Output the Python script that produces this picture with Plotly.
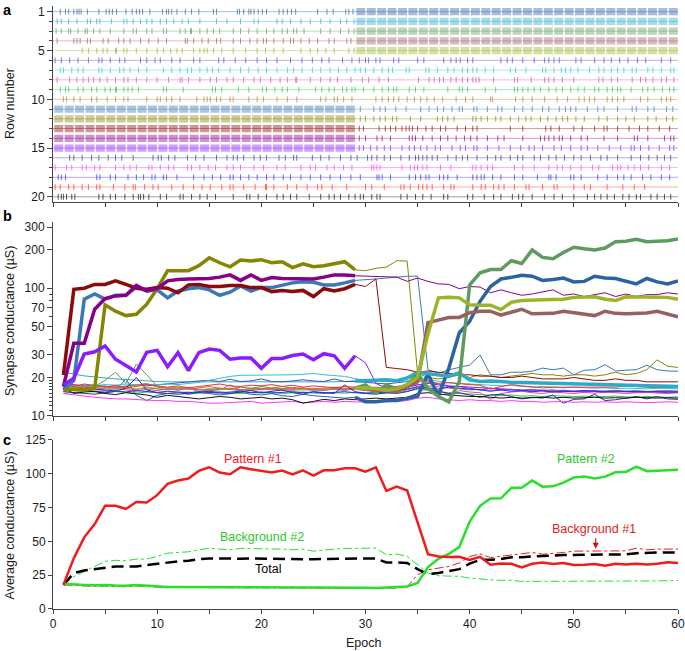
import plotly.graph_objects as go

# ---------------- data ----------------
EPOCHS = list(range(1, 61))
SWITCH_EPOCH = 29                 # pattern #1 presented before, pattern #2 after
PATTERN1_ROWS = [11, 12, 13, 14, 15]
PATTERN2_ROWS = [1, 2, 3, 4, 5]
ROWS = list(range(1, 21))

ROW_COLORS = ['#2d62a0', '#2aabcc', '#5f9a5f', '#9a6060', '#9ab52a',
              '#4b4bc0', '#26c6da', '#d44f9c', '#2ec24c', '#b47a38',
              '#3a78b8', '#858500', '#8b0a0a', '#880088', '#8a1cff',
              '#303096', '#ff33ff', '#2a2aff', '#ff2a2a', '#111111']

# spike times (in epochs) of the sparse parts of each raster row
SPIKES_1 = [0.7, 1.2, 1.5, 2.0, 2.3, 2.5, 2.7, 3.3, 4.4, 5.1, 5.4, 5.7, 6.1, 7.0, 7.6, 8.0, 8.3, 8.6, 9.3, 10.5, 10.9, 11.1, 11.4, 11.9, 12.7, 13.3, 14.0, 15.4, 15.7, 17.7, 17.9, 18.3, 18.8, 19.0, 19.3, 19.7, 20.1, 20.5, 21.7, 22.1, 22.5, 22.9, 23.3, 25.4, 26.3, 26.9, 28.1, 28.4, 28.8]
SPIKES_2 = [0.4, 0.8, 1.5, 2.3, 3.3, 3.6, 4.2, 4.5, 5.6, 6.8, 7.1, 7.7, 8.4, 9.0, 9.5, 10.3, 10.9, 11.6, 12.4, 13.0, 14.1, 15.7, 16.7, 18.0, 19.3, 19.7, 21.5, 22.0, 22.8, 23.8, 24.7, 25.7, 26.6, 27.6, 28.2, 28.9]
SPIKES_3 = [0.3, 0.8, 1.5, 1.7, 2.4, 3.1, 3.3, 3.9, 4.5, 5.5, 6.8, 7.7, 8.0, 9.0, 9.5, 10.6, 10.9, 12.2, 12.7, 13.2, 13.3, 14.1, 14.8, 15.4, 16.0, 17.3, 18.0, 18.8, 19.6, 20.5, 21.2, 22.0, 22.5, 23.1, 23.4, 24.1, 25.7, 26.6, 27.6, 28.4, 28.9]
SPIKES_4 = [0.4, 2.0, 2.3, 2.6, 3.3, 3.6, 4.8, 5.3, 6.3, 6.8, 7.4, 8.4, 9.2, 10.1, 10.9, 12.7, 12.9, 13.5, 14.3, 14.9, 15.7, 16.1, 17.3, 18.0, 18.9, 19.6, 20.2, 20.5, 21.2, 22.1, 22.8, 23.1, 23.8, 24.6, 25.4, 26.5, 27.0, 28.2, 28.6]
SPIKES_5 = [2.8, 3.4, 4.2, 4.8, 5.2, 6.0, 6.1, 6.8, 7.1, 8.0, 9.0, 10.0, 10.6, 11.3, 11.9, 12.4, 13.5, 14.1, 14.5, 14.8, 15.4, 16.2, 17.3, 18.5, 19.6, 20.4, 21.2, 22.1, 23.8, 24.7, 25.4, 26.2, 27.0, 28.4, 28.9]
SPIKES_6 = [0.2, 0.8, 1.6, 2.4, 3.4, 4.4, 4.7, 5.5, 6.4, 6.9, 8.4, 9.0, 9.8, 10.3, 11.4, 12.2, 13.5, 14.1, 15.9, 16.4, 17.5, 18.5, 19.6, 20.5, 21.5, 22.8, 23.9, 24.9, 25.8, 26.5, 27.8, 28.7,
            29.4, 30.0, 30.3, 31.0, 31.4, 32.7, 33.2, 35.0, 35.6, 37.5, 38.2, 38.7, 39.1, 39.8, 40.3, 43.0, 43.6, 44.1, 45.1, 46.2, 47.2, 47.6, 48.1, 48.6, 50.2, 50.7, 52.0, 52.9, 53.6, 54.4, 55.2, 56.1, 56.9, 58.4, 59.3]
SPIKES_7 = [0.7, 1.0, 1.8, 2.4, 2.9, 4.4, 4.7, 5.5, 6.4, 6.8, 7.4, 8.2, 9.0, 10.6, 11.4, 12.2, 12.9, 13.3, 14.1, 14.8, 15.3, 15.9, 17.0, 18.0, 18.8, 19.7, 20.5, 21.5, 22.5, 23.1, 23.9, 24.9, 25.7, 26.6, 27.4, 28.2, 29.0,
            29.5, 30.0, 30.8, 31.6, 32.2, 32.6, 33.9, 34.2, 35.8, 36.1, 36.9, 37.9, 38.5, 39.3, 39.8, 40.3, 40.7, 41.5, 42.3, 43.9, 44.4, 45.4, 47.0, 47.3, 48.1, 48.8, 49.2, 49.7, 50.4, 51.5, 52.4, 52.9, 53.6, 54.2, 54.8, 55.6, 56.0, 57.1, 57.6, 58.4, 59.3, 59.6]
SPIKES_8 = [0.4, 1.6, 2.3, 2.9, 3.4, 3.9, 4.5, 5.2, 6.0, 6.8, 7.2, 8.0, 9.0, 10.0, 11.1, 12.2, 12.4, 13.0, 14.1, 15.1, 15.7, 16.7, 17.3, 18.3, 19.3, 19.9, 20.9, 21.8, 22.5, 23.3, 23.4, 24.7, 25.7, 26.6, 27.3, 28.6,
            29.7, 30.3, 31.3, 32.2, 35.1, 36.1, 36.6, 37.1, 37.5, 38.2, 38.7, 39.3, 39.8, 40.3, 40.6, 40.9, 42.3, 44.3, 44.6, 45.9, 47.2, 47.6, 48.1, 48.9, 50.0, 52.4, 52.8, 53.6, 54.2, 55.6, 56.4, 56.9, 57.6, 58.4, 58.9, 59.6]
SPIKES_9 = [0.7, 1.2, 1.5, 2.4, 2.9, 3.7, 4.2, 5.0, 5.5, 6.0, 6.1, 6.8, 7.2, 7.6, 8.2, 10.6, 10.9, 12.5, 15.3, 15.6, 16.2, 17.8, 18.8, 20.1, 20.5, 21.3, 22.0, 22.5, 23.6, 25.2, 25.8, 26.5, 27.0, 27.8, 28.2, 28.7,
            29.0, 29.8, 30.8, 31.6, 32.2, 32.7, 33.0, 34.2, 34.8, 35.6, 37.9, 39.0, 39.3, 39.8, 41.5, 42.5, 44.3, 44.6, 45.1, 45.6, 46.2, 46.8, 47.6, 48.3, 48.9, 49.7, 50.4, 51.0, 52.0, 52.4, 53.2, 53.7, 54.2, 54.5, 55.5, 56.6, 57.1, 57.7, 58.5, 59.2, 59.6]
SPIKES_10 = [1.0, 1.3, 2.0, 2.6, 3.7, 4.2, 5.2, 6.0, 6.8, 7.2, 9.0, 10.0, 10.3, 10.9, 11.4, 12.2, 13.8, 14.5, 14.8, 15.1, 15.7, 16.1, 17.0, 17.3, 18.8, 19.6, 20.2, 21.5, 22.5, 23.4, 25.7, 26.2, 27.0, 27.3, 27.9, 28.7,
             31.0, 31.6, 32.2, 32.7, 33.2, 34.0, 34.7, 35.3, 35.9, 36.6, 37.4, 38.7, 39.6, 40.3, 42.0, 42.2, 44.4, 45.1, 46.0, 47.2, 48.4, 49.4, 50.5, 51.0, 51.5, 52.0, 53.2, 53.7, 54.2, 54.8, 56.4, 57.1, 58.4, 58.9, 59.3]
SPIKES_11 = [29.5, 30.8, 31.4, 31.9, 32.9, 33.9, 35.3, 36.1, 36.9, 37.5, 38.3, 39.0, 39.3, 40.4, 40.7, 41.7, 42.7, 43.1, 44.3, 45.1, 46.0, 47.0, 47.6, 48.6, 49.2, 49.7, 50.2, 51.3, 52.3, 52.9, 54.2, 55.6, 56.0, 57.1, 57.7, 58.9, 59.5]
SPIKES_12 = [29.5, 30.0, 30.8, 31.4, 31.9, 32.6, 33.0, 34.3, 35.3, 36.9, 37.4, 37.9, 38.5, 40.3, 40.6, 41.1, 41.7, 42.5, 43.0, 43.9, 44.7, 45.4, 45.9, 46.8, 47.5, 48.3, 48.9, 49.4, 50.2, 51.0, 52.4, 53.2, 54.2, 55.0, 55.8, 57.1, 57.9, 58.9, 59.5]
SPIKES_13 = [29.4, 29.8, 31.3, 31.9, 32.4, 32.9, 33.5, 33.9, 34.2, 34.5, 35.0, 35.8, 36.4, 37.2, 37.7, 38.8, 39.6, 40.3, 40.7, 43.9, 45.1, 47.3, 47.8, 48.6, 50.0, 50.8, 52.0, 52.9, 53.2, 54.2, 55.3, 56.3, 57.1, 58.2, 59.2]
SPIKES_14 = [29.4, 30.0, 31.1, 31.6, 32.4, 34.2, 34.5, 34.8, 35.5, 36.4, 37.2, 37.9, 38.7, 39.5, 40.1, 40.7, 41.7, 42.7, 43.3, 45.1, 46.8, 47.2, 47.6, 48.1, 48.6, 48.9, 49.7, 50.7, 51.3, 52.9, 54.2, 55.8, 56.1, 57.1, 58.7, 59.3, 59.6]
SPIKES_15 = [29.4, 29.8, 30.5, 31.1, 31.8, 32.4, 33.5, 34.2, 34.7, 35.3, 35.9, 36.7, 37.2, 38.3, 39.1, 39.6, 40.4, 40.7, 41.7, 42.8, 43.9, 44.9, 45.7, 46.2, 47.0, 48.1, 48.8, 49.7, 50.7, 51.3, 52.3, 53.4, 54.5, 55.5, 55.8, 56.4, 57.2, 58.2, 59.2, 59.6]
SPIKES_16 = [1.6, 2.0, 2.8, 3.7, 4.4, 5.3, 6.0, 6.6, 7.7, 9.6, 10.1, 10.4, 11.1, 11.7, 12.9, 13.7, 14.5, 15.7, 16.7, 17.3, 17.7, 18.3, 19.3, 19.9, 20.5, 21.7, 22.3, 23.1, 23.4, 24.9, 25.7, 26.5, 27.6, 28.6,
             29.2, 30.2, 30.6, 31.1, 31.8, 32.4, 33.4, 34.2, 34.8, 35.1, 35.5, 35.9, 36.4, 36.9, 37.9, 38.7, 39.3, 39.8, 40.7, 41.7, 42.5, 43.0, 43.9, 44.6, 45.1, 46.2, 46.8, 47.6, 48.3, 49.1, 50.0, 50.7, 51.6, 52.6, 53.2, 54.2, 55.5, 56.4, 57.2, 58.0, 58.7, 59.3]
SPIKES_17 = [0.2, 1.3, 1.8, 2.8, 3.2, 4.0, 4.5, 6.0, 6.8, 7.4, 8.0, 9.2, 9.5, 10.3, 11.1, 11.6, 12.9, 13.3, 14.1, 14.9, 15.6, 16.7, 17.3, 18.0, 19.3, 20.2, 21.5, 22.3, 23.8, 24.7, 25.2, 26.3, 27.0, 27.9, 28.7,
             30.6, 30.8, 31.1, 31.4, 33.5, 34.3, 34.7, 35.0, 35.5, 35.9, 37.2, 38.2, 40.3, 40.6, 41.1, 41.7, 42.2, 44.3, 45.1, 46.2, 47.6, 48.4, 48.9, 49.7, 50.7, 51.8, 52.4, 53.7, 54.2, 54.5, 55.2, 55.8, 56.4, 57.2, 58.4, 59.2]
SPIKES_18 = [0.5, 0.8, 1.2, 4.2, 4.5, 5.5, 6.0, 7.2, 8.0, 8.7, 9.5, 9.8, 10.6, 10.9, 11.9, 13.5, 14.5, 15.3, 16.1, 17.0, 17.3, 18.0, 18.8, 19.6, 20.5, 21.2, 22.1, 22.8, 23.8, 24.7, 25.7, 26.6, 27.6, 28.6,
             29.5, 31.1, 31.3, 31.6, 32.4, 34.2, 34.8, 35.3, 35.8, 36.1, 37.1, 37.5, 37.9, 38.8, 40.3, 40.7, 41.1, 41.4, 42.2, 43.0, 44.3, 45.1, 46.5, 47.6, 47.8, 48.3, 49.7, 50.0, 50.7, 52.3, 53.2, 54.2, 54.8, 55.5, 56.6, 57.4, 58.4, 59.2]
SPIKES_19 = [0.2, 0.7, 1.5, 2.0, 2.8, 3.4, 4.2, 4.5, 5.8, 6.9, 7.7, 7.9, 8.8, 9.6, 10.1, 11.4, 12.5, 13.5, 14.3, 15.1, 16.2, 17.0, 17.3, 18.3, 19.4, 20.4, 20.5, 21.2, 22.5, 23.4, 24.4, 25.4, 25.8, 26.8, 28.2,
             30.0, 30.6, 31.8, 33.4, 33.7, 34.3, 35.1, 35.5, 35.9, 36.4, 37.5, 38.2, 38.5, 40.3, 41.1, 41.5, 42.3, 42.8, 43.3, 44.3, 45.4, 45.7, 47.0, 48.1, 48.4, 50.0, 51.0, 51.6, 53.2, 54.7, 55.8, 56.8]
SPIKES_20 = [0.5, 0.8, 1.0, 1.3, 1.8, 2.1, 4.4, 4.8, 5.5, 6.0, 6.9, 7.7, 8.2, 8.4, 8.7, 9.2, 10.3, 10.9, 12.2, 12.5, 13.3, 14.1, 14.8, 15.6, 17.3, 18.6, 18.9, 19.7, 20.5, 21.5, 22.1, 22.8, 23.4, 24.6, 25.7, 26.5, 27.0, 27.6, 28.4, 29.0,
             29.5, 29.8, 30.6, 31.1, 31.4, 33.4, 34.0, 34.8, 35.5, 36.3, 37.5, 37.9, 39.8, 40.3, 41.4, 42.3, 43.0, 44.1, 44.7, 45.1, 46.0, 47.2, 48.1, 48.9, 50.0, 51.3, 52.0, 52.6, 53.2, 53.9, 54.7, 55.3, 56.0, 56.4, 57.4, 58.0, 58.7, 59.3]
SPIKE_TRAINS = [SPIKES_1, SPIKES_2, SPIKES_3, SPIKES_4, SPIKES_5, SPIKES_6, SPIKES_7, SPIKES_8, SPIKES_9, SPIKES_10,
                SPIKES_11, SPIKES_12, SPIKES_13, SPIKES_14, SPIKES_15, SPIKES_16, SPIKES_17, SPIKES_18, SPIKES_19, SPIKES_20]

# synapse conductance (uS) per row, epochs 1..60
G_1 = [15.5, 16.2, 15.8, 15.6, 15.4, 15.8, 19.5, 14.5, 13.2, 14.5, 15.0, 15.3, 14.8, 15.2, 15.0, 14.6, 15.0, 15.3, 14.8, 14.6,
       15.0, 14.4, 14.2, 14.8, 14.4, 14.2, 14.0, 13.8, 14.0, 12.9, 12.9, 13.2, 13.2, 13.8, 14.3, 21.3, 14.3, 23.7, 44.6, 55.0,
       78.9, 103, 118, 121.5, 126, 124, 115, 117, 120, 112, 113, 124, 120, 119, 113, 108, 119, 112, 108, 114]
G_2 = [22.0, 21.2, 20.6, 20.2, 19.8, 19.5, 19.3, 19.0, 18.8, 18.6, 18.5, 18.5, 18.4, 18.5, 18.4, 18.4, 18.5, 18.3, 18.4, 18.3,
       18.5, 18.4, 18.3, 18.5, 18.4, 18.3, 18.5, 18.6, 18.8, 18.9, 18.9, 19.2, 18.9, 19.8, 22.0, 21.4, 20.9, 20.5, 21.7, 19.2,
       18.6, 18.8, 18.6, 18.3, 18.3, 18.2, 18.0, 18.0, 17.9, 17.9, 17.8, 17.7, 17.6, 17.5, 17.4, 17.4, 17.3, 17.2, 17.1, 17.0]
G_3 = [16.0, 17.0, 16.5, 17.0, 19.0, 22.0, 18.0, 25.5, 21.0, 17.0, 16.5, 16.0, 16.5, 15.5, 16.0, 16.0, 17.5, 16.0, 16.5, 17.0,
       16.5, 17.0, 16.5, 16.0, 16.5, 16.0, 16.5, 16.0, 16.5, 17.5, 15.2, 17.5, 16.3, 17.5, 21.6, 16.4, 14.2, 12.9, 18.5, 106,
       132, 140, 140, 164, 156, 199, 174, 170, 190, 209, 203, 199, 206, 231, 233, 241, 231, 233, 235, 242]
G_4 = [17.0, 16.5, 16.8, 16.2, 16.5, 16.9, 16.4, 16.1, 16.6, 16.3, 16.0, 16.4, 16.7, 16.2, 16.0, 16.5, 16.2, 15.8, 16.2, 16.5,
       16.0, 16.3, 16.6, 16.1, 15.9, 16.3, 16.1, 15.9, 16.5, 16.4, 15.9, 15.9, 15.5, 17.0, 18.5, 53.7, 56.4, 59.0, 59.0, 64.3,
       66.0, 66.0, 61.6, 65.3, 68.4, 63.0, 63.0, 63.5, 66.0, 64.5, 63.0, 61.0, 66.0, 63.5, 63.0, 63.5, 64.0, 66.0, 63.0, 59.8]
G_5 = [16.5, 16.8, 17.2, 16.8, 16.5, 16.2, 16.6, 16.3, 16.8, 16.4, 16.1, 16.5, 16.2, 16.0, 16.4, 16.1, 16.3, 15.9, 16.2, 16.0,
       16.3, 16.1, 15.8, 16.1, 16.4, 16.0, 16.2, 16.4, 16.5, 16.6, 16.3, 15.8, 16.3, 17.6, 20.0, 44.0, 84.0, 85.0, 84.0, 74.0,
       73.5, 73.5, 68.0, 77.6, 80.0, 81.0, 81.0, 81.5, 82.0, 84.7, 84.7, 85.5, 82.0, 80.0, 85.5, 85.5, 85.5, 86.0, 84.7, 81.8]
G_6 = [18.0, 17.5, 17.2, 17.5, 17.0, 16.8, 17.2, 17.5, 17.2, 17.5, 18.0, 18.3, 18.5, 18.8, 19.0, 18.6, 19.4, 18.6, 18.8, 19.5,
       18.6, 18.5, 18.8, 19.2, 18.8, 18.6, 19.5, 18.6, 18.6, 18.4, 18.2, 17.8, 18.2, 18.6, 19.5, 18.8, 17.8, 17.2, 17.0, 16.8,
       16.6, 16.5, 16.3, 16.2, 16.0, 16.0, 15.8, 16.0, 15.6, 15.6, 15.8, 15.5, 15.4, 15.5, 15.5, 15.3, 15.5, 15.3, 15.4, 15.3]
G_7 = [17.0, 17.2, 17.5, 17.3, 17.6, 17.4, 17.8, 17.5, 17.7, 17.6, 17.8, 17.6, 18.0, 18.3, 19.0, 19.8, 20.4, 20.8, 20.8, 21.0,
       21.0, 20.8, 21.0, 21.2, 21.5, 21.0, 20.6, 20.4, 19.6, 19.0, 18.8, 18.6, 18.5, 18.8, 19.5, 19.2, 18.6, 18.2, 18.0, 17.8,
       17.6, 17.4, 17.2, 17.3, 17.0, 16.8, 17.0, 16.8, 16.6, 16.8, 16.6, 16.5, 16.6, 16.4, 16.5, 16.4, 16.3, 16.5, 16.4, 16.3]
G_8 = [16.0, 16.5, 16.2, 15.6, 15.8, 16.4, 16.0, 15.6, 16.2, 15.8, 16.3, 15.9, 16.4, 16.0, 15.7, 16.2, 16.5, 16.0, 15.8, 16.2,
       16.4, 15.9, 16.1, 16.6, 16.0, 15.8, 16.3, 16.0, 16.2, 15.8, 15.6, 15.2, 15.6, 16.0, 16.8, 16.4, 16.0, 14.5, 15.8, 15.4,
       15.2, 13.5, 15.0, 15.4, 15.6, 15.2, 15.0, 15.4, 15.2, 15.0, 15.3, 15.1, 15.4, 15.2, 15.0, 15.2, 15.4, 15.1, 15.0, 15.2]
G_9 = [15.0, 15.3, 15.6, 15.4, 15.2, 15.5, 15.3, 15.1, 15.4, 15.2, 15.0, 15.2, 15.4, 15.1, 15.3, 15.5, 15.2, 15.0, 15.3, 15.1,
       15.3, 15.0, 15.2, 15.4, 15.1, 15.0, 15.2, 15.1, 15.3, 15.2, 15.0, 15.1, 15.3, 15.6, 16.2, 15.8, 15.4, 15.2, 15.0, 14.8,
       14.6, 14.5, 14.4, 14.6, 14.3, 14.4, 14.2, 14.4, 14.3, 14.2, 14.3, 14.1, 14.2, 14.3, 14.1, 14.0, 14.2, 14.1, 14.0, 14.1]
G_10 = [16.5, 17.5, 17.0, 16.8, 17.2, 16.5, 17.0, 17.6, 18.0, 16.8, 16.5, 16.8, 16.2, 16.6, 17.0, 16.5, 16.2, 16.8, 16.4, 16.2,
        16.6, 16.3, 16.7, 16.4, 16.2, 16.5, 16.8, 16.4, 16.6, 16.4, 16.2, 16.0, 16.3, 16.8, 17.6, 17.2, 16.8, 16.5, 16.3, 16.0,
        16.2, 15.8, 16.0, 16.2, 15.8, 15.9, 16.0, 15.8, 15.9, 15.7, 15.8, 15.6, 15.8, 15.9, 15.7, 15.8, 15.6, 15.7, 15.8, 15.6]
G_11 = [16.0, 19.0, 82, 90, 82, 88, 88, 102, 95, 97, 84, 95, 99, 101, 97, 88, 93, 104, 95, 101,
        101, 106, 110, 112, 111, 106, 106, 110, 115, 116, 118, 120, 122, 124, 124, 23.0, 21.6, 23.0, 24.0, 25.0,
        30.0, 21.0, 21.0, 22.0, 22.0, 22.4, 23.7, 23.0, 23.7, 21.0, 22.8, 23.0, 25.2, 22.5, 22.8, 23.0, 25.0, 23.0, 22.5, 22.4]
G_12 = [16.0, 16.2, 16.0, 16.4, 74, 66, 61, 62.5, 75, 99, 137, 137, 137, 150, 173, 158, 147, 166, 163, 167,
        158, 161, 145, 155, 147, 150, 155, 161, 139, 137, 143, 146, 164, 163, 21.6, 20.0, 19.5, 20.0, 21.0, 20.0,
        21.0, 20.5, 20.0, 20.5, 21.0, 21.5, 21.0, 21.0, 20.5, 21.0, 21.0, 20.5, 21.0, 22.0, 21.0, 21.5, 23.0, 27.5, 24.5, 24.0]
G_13 = [20.9, 98, 100, 107, 107, 114, 107, 100, 98, 101, 100, 92, 106, 107, 103, 103, 105, 105, 101, 101,
        94, 96, 94, 96, 86, 99, 95, 99, 107, 103, 118, 24.0, 23.5, 23.0, 22.0, 22.5, 22.0, 21.5, 21.0, 21.0,
        20.5, 20.5, 20.0, 20.0, 20.5, 20.0, 19.5, 19.5, 19.5, 20.0, 19.5, 19.0, 19.0, 19.5, 19.0, 19.0, 18.5, 18.5, 18.5, 18.5]
G_14 = [17.0, 37, 37, 68.4, 83, 87, 88, 105, 95, 99, 114, 117, 118, 118, 119, 122, 127, 115, 127, 115,
        121, 119, 119, 118, 118, 122, 127, 127, 125, 124, 124, 123, 122, 113, 120, 113, 108, 107, 99, 103,
        102, 92, 97, 92, 88, 90, 94, 97, 88, 90, 86, 89, 92, 86, 90, 86, 89, 89, 92, 90]
G_15 = [17.5, 19.7, 30.5, 31.8, 35.3, 27.8, 24.8, 22.1, 31.5, 32.6, 24.3, 31.3, 22.6, 31.3, 33.4, 32.6, 27.8, 28.4, 28.4, 23.6,
        28.2, 28.2, 29.7, 30.5, 27.5, 30.7, 29.6, 23.6, 29.6, 26.0, 18.0, 16.5, 16.5, 16.8, 17.5, 18.0, 17.5, 17.0, 17.0, 16.5,
        16.0, 16.5, 16.0, 16.0, 15.8, 16.0, 15.8, 15.5, 15.8, 15.5, 15.5, 15.8, 15.5, 15.5, 15.3, 15.5, 15.3, 15.5, 15.2, 15.3]
G_16 = [15.5, 15.2, 15.0, 14.8, 15.2, 15.6, 16.5, 20.0, 16.0, 15.2, 15.0, 14.8, 15.0, 15.3, 15.6, 15.2, 15.0, 15.4, 15.8, 15.2,
        15.6, 16.0, 15.2, 14.8, 15.5, 15.2, 15.0, 17.5, 15.5, 15.0, 14.8, 15.2, 15.0, 15.5, 16.5, 16.2, 15.5, 15.0, 15.2, 14.6,
        14.0, 14.6, 14.8, 14.2, 13.6, 14.0, 13.8, 14.6, 12.6, 13.5, 13.6, 14.8, 13.2, 13.4, 13.8, 14.2, 13.6, 14.2, 13.6, 13.5]
G_17 = [15.0, 14.6, 14.2, 14.0, 13.8, 13.6, 13.6, 13.4, 13.3, 13.2, 13.2, 13.0, 13.0, 12.8, 12.6, 12.6, 12.7, 12.9, 13.0, 12.6,
        12.7, 12.8, 13.0, 12.7, 12.8, 13.0, 12.8, 13.0, 12.9, 12.8, 12.8, 12.9, 13.0, 13.2, 13.8, 14.0, 13.6, 13.4, 13.2, 13.4,
        13.2, 13.2, 13.0, 13.2, 13.0, 13.0, 12.8, 12.9, 13.0, 12.8, 12.9, 12.8, 12.9, 12.8, 12.9, 12.8, 12.7, 12.8, 12.9, 12.8]
G_18 = [16.5, 16.0, 15.8, 16.2, 16.0, 15.6, 15.4, 15.8, 15.5, 15.3, 15.6, 15.4, 15.2, 15.5, 15.3, 15.1, 15.4, 15.6, 15.2, 15.4,
        15.1, 15.3, 15.5, 15.2, 15.4, 15.1, 15.3, 15.5, 15.2, 15.0, 15.2, 15.4, 15.6, 16.2, 17.0, 16.6, 16.2, 16.8, 16.4, 16.2,
        16.0, 15.6, 16.0, 15.6, 15.8, 15.5, 15.7, 15.4, 15.6, 15.5, 15.8, 15.6, 15.4, 15.7, 15.5, 15.6, 15.4, 15.6, 15.5, 15.6]
G_19 = [17.5, 17.0, 17.8, 17.2, 16.8, 17.4, 16.6, 17.0, 17.6, 17.2, 16.8, 17.2, 16.6, 17.0, 17.4, 17.8, 17.2, 17.0, 17.4, 17.2,
        17.6, 17.0, 17.4, 16.8, 17.2, 17.0, 16.6, 17.0, 16.8, 16.6, 16.8, 16.6, 17.0, 17.6, 18.8, 18.4, 18.0, 18.2, 17.8, 17.6,
        17.4, 16.2, 17.0, 17.6, 17.2, 16.8, 16.6, 16.8, 16.8, 17.0, 17.0, 16.8, 17.0, 16.8, 17.2, 17.0, 16.8, 16.6, 16.8, 16.7]
G_20 = [16.6, 15.0, 15.4, 15.6, 15.0, 14.7, 15.2, 14.8, 14.6, 14.0, 14.5, 14.2, 13.9, 13.6, 13.9, 14.2, 14.0, 13.6, 13.8, 14.0,
        13.6, 13.8, 13.4, 12.6, 13.0, 13.5, 13.2, 13.6, 13.4, 13.6, 13.8, 13.6, 13.8, 14.0, 15.0, 15.2, 14.8, 14.6, 14.4, 14.2,
        14.2, 14.0, 13.8, 14.0, 13.8, 13.9, 14.0, 13.8, 14.0, 13.8, 13.9, 14.0, 13.8, 13.9, 13.8, 14.0, 13.9, 13.8, 13.9, 13.8]
CONDUCTANCE = [G_1, G_2, G_3, G_4, G_5, G_6, G_7, G_8, G_9, G_10,
               G_11, G_12, G_13, G_14, G_15, G_16, G_17, G_18, G_19, G_20]

# average conductance (uS), epochs 1..60
PATTERN_1 = [17.9, 37.6, 53.0, 62.8, 76.3, 76.3, 74.0, 79.2, 78.8, 84.2, 92.5, 95.0, 96.5, 102.1, 104.8, 100.9, 99.7, 104.8, 103.4, 101.9,
             100.9, 102.4, 99.5, 102.6, 98.7, 102.6, 102.6, 104.1, 104.1, 101.6, 104.8, 87.3, 90.5, 87.6, 63.5, 40.6, 38.9, 38.4, 38.6, 36.2,
             38.6, 32.7, 33.7, 33.4, 30.7, 33.4, 34.4, 33.2, 34.0, 32.5, 32.7, 33.2, 32.0, 33.4, 33.0, 33.4, 33.0, 33.4, 34.6, 34.0]
PATTERN_2 = [18.7, 18.0, 17.8, 17.5, 17.8, 17.3, 17.2, 17.8, 17.2, 16.8, 16.2, 16.3, 16.3, 16.2, 16.0, 16.0, 15.8, 15.8, 16.0, 16.0,
             16.3, 16.0, 16.0, 15.8, 16.2, 16.0, 16.0, 15.8, 15.8, 15.8, 15.5, 15.8, 16.0, 16.7, 19.2, 31.0, 37.1, 40.8, 45.8, 64.7,
             76.3, 81.7, 81.9, 89.6, 89.6, 95.0, 90.5, 90.7, 93.5, 97.2, 97.9, 96.5, 97.9, 101.1, 101.4, 105.3, 101.9, 102.1, 102.6, 102.9]
BACKGROUND_1 = [17.9, 17.2, 17.0, 16.8, 17.0, 16.6, 16.5, 17.0, 16.5, 16.2, 15.8, 15.9, 15.9, 15.8, 15.6, 15.6, 15.4, 15.4, 15.6, 15.6,
                15.9, 15.6, 15.6, 15.4, 15.8, 15.6, 15.6, 15.4, 15.4, 15.4, 15.2, 15.4, 15.6, 16.5, 25.3, 29.0, 30.3, 31.5, 34.0, 38.9,
                40.8, 38.0, 39.0, 39.8, 40.8, 41.8, 40.5, 41.0, 41.8, 42.8, 42.8, 42.8, 42.8, 42.8, 43.0, 45.0, 43.8, 44.3, 44.3, 44.3]
BACKGROUND_2 = [17.9, 24.0, 27.8, 31.5, 35.2, 36.0, 35.7, 36.9, 36.9, 38.9, 41.3, 41.8, 42.3, 43.8, 45.0, 44.3, 43.8, 44.8, 44.8, 44.8,
                44.3, 44.3, 43.8, 44.3, 42.8, 43.8, 44.3, 44.8, 44.8, 45.0, 45.0, 40.1, 40.6, 38.9, 32.7, 26.6, 24.6, 24.1, 24.1, 22.9,
                22.1, 21.6, 21.2, 21.2, 20.4, 20.4, 20.4, 20.4, 20.4, 20.4, 20.4, 20.4, 20.4, 20.6, 20.6, 20.6, 20.8, 20.8, 21.0, 21.1]
TOTAL = [17.9, 26.6, 28.5, 29.5, 31.0, 31.5, 31.5, 31.5, 32.5, 33.5, 34.4, 35.2, 35.7, 36.9, 37.4, 37.2, 37.0, 37.2, 37.4, 37.2,
         37.0, 37.2, 37.0, 36.8, 36.8, 37.0, 37.2, 37.4, 37.4, 37.4, 37.4, 34.4, 34.4, 34.0, 29.5, 25.8, 26.6, 28.1, 29.5, 33.5,
         36.4, 36.4, 36.9, 38.2, 38.2, 38.9, 38.9, 39.4, 39.9, 39.9, 40.4, 40.4, 40.4, 40.4, 40.4, 41.3, 41.8, 41.8, 41.8, 41.8]

RED = '#f21b1b'
GREEN = '#28e028'
FONT = 'Liberation Sans, Arial, sans-serif'


def rgba(hex_color, alpha):
    h = hex_color.lstrip('#')
    r, g, b = int(h[0:2], 16), int(h[2:4], 16), int(h[4:6], 16)
    return f'rgba({r},{g},{b},{alpha})'


fig = go.Figure()

# ---------------- panel a: spike raster ----------------
for i, row in enumerate(ROWS):
    c = ROW_COLORS[i]
    fig.add_trace(go.Scatter(x=[0, 60], y=[row, row], mode='lines',
                             line=dict(color=rgba(c, 0.4), width=1),
                             xaxis='x', yaxis='y', hoverinfo='skip', showlegend=False))
    xs, ys = [], []
    for t in SPIKE_TRAINS[i]:
        xs += [t, t, None]
        ys += [row - 0.3, row + 0.3, None]
    fig.add_trace(go.Scatter(x=xs, y=ys, mode='lines',
                             line=dict(color=rgba(c, 0.7), width=1),
                             xaxis='x', yaxis='y', hoverinfo='skip', showlegend=False))

# dense blocks: the rows of the pattern being presented, one block per epoch
for rows, first, last in [(PATTERN1_ROWS, 0, SWITCH_EPOCH), (PATTERN2_ROWS, SWITCH_EPOCH, 60)]:
    for row in rows:
        c = ROW_COLORS[row - 1]
        centers = [e + 0.55 for e in range(first, last)]
        fig.add_trace(go.Bar(x=centers, y=[0.74] * len(centers), base=[row - 0.37] * len(centers),
                             width=0.86, marker=dict(color=rgba(c, 0.42), line=dict(width=0)),
                             xaxis='x', yaxis='y', hoverinfo='skip', showlegend=False))

# ---------------- panel b: synapse conductance ----------------
thick = []
for i, row in enumerate(ROWS):
    g = CONDUCTANCE[i]
    c = ROW_COLORS[i]
    k = SWITCH_EPOCH - 1
    if row in PATTERN1_ROWS:
        thin_part = (EPOCHS[k:], g[k:])
        thick.append((EPOCHS[:k + 1], g[:k + 1], c))
    elif row in PATTERN2_ROWS:
        thin_part = (EPOCHS[:k + 1], g[:k + 1])
        thick.append((EPOCHS[k:], g[k:], c))
    else:
        thin_part = (EPOCHS, g)
    fig.add_trace(go.Scatter(x=thin_part[0], y=thin_part[1], mode='lines',
                             line=dict(color=c, width=1),
                             xaxis='x2', yaxis='y2', showlegend=False))
for xs, ys, c in thick:
    fig.add_trace(go.Scatter(x=xs, y=ys, mode='lines',
                             line=dict(color=c, width=3.5),
                             xaxis='x2', yaxis='y2', showlegend=False))

# ---------------- panel c: average conductance ----------------
fig.add_trace(go.Scatter(x=EPOCHS, y=BACKGROUND_2, mode='lines', line=dict(color=GREEN, width=1, dash='dashdot'),
                         xaxis='x3', yaxis='y3', showlegend=False))
fig.add_trace(go.Scatter(x=EPOCHS, y=BACKGROUND_1, mode='lines', line=dict(color=RED, width=1, dash='dashdot'),
                         xaxis='x3', yaxis='y3', showlegend=False))
fig.add_trace(go.Scatter(x=EPOCHS, y=TOTAL, mode='lines', line=dict(color='black', width=2.5, dash='12px,6px'),
                         xaxis='x3', yaxis='y3', showlegend=False))
fig.add_trace(go.Scatter(x=EPOCHS, y=PATTERN_2, mode='lines', line=dict(color=GREEN, width=2.5),
                         xaxis='x3', yaxis='y3', showlegend=False))
fig.add_trace(go.Scatter(x=EPOCHS, y=PATTERN_1, mode='lines', line=dict(color=RED, width=2.5),
                         xaxis='x3', yaxis='y3', showlegend=False))

# ---------------- layout ----------------
line_style = dict(showline=True, linecolor='#444', linewidth=1, zeroline=False, showgrid=False, automargin=False,
                  tickcolor='#444', tickfont=dict(family=FONT, size=12, color='#1a1a1a'))
DOM_A = [0.6755, 1.0]
DOM_B = [0.3201, 0.6423]
DOM_C = [0.0, 0.2803]
RANGE_A = [20.5, 0.42]
RANGE_B = [1, 2.52]
LOG_MAJOR = [10, 20, 30, 50, 70, 100, 200, 300]
LOG_MINOR = [11, 12, 13, 14, 15, 16, 17, 18, 19, 40, 60, 80, 90]

fig.update_layout(
    width=685, height=651,
    margin=dict(l=53, r=7, t=6, b=42),
    paper_bgcolor='white', plot_bgcolor='white',
    barmode='overlay',
    font=dict(family=FONT, size=12, color='#1a1a1a'),
    xaxis=dict(domain=[0, 1], anchor='y', range=[0, 60], dtick=5, ticks='outside', ticklen=4,
               showticklabels=False, **line_style),
    yaxis=dict(domain=DOM_A, anchor='x', range=RANGE_A, tickvals=[1, 5, 10, 15, 20], ticks='outside', ticklen=5,
               minor=dict(tickvals=ROWS, ticks='outside', ticklen=3, tickcolor='#444'), **line_style),
    xaxis4=dict(overlaying='x', side='top', anchor='y', range=[0, 60], dtick=5, ticks='inside', ticklen=4,
                showticklabels=False, **line_style),
    yaxis4=dict(overlaying='y', side='right', anchor='x', range=RANGE_A, tickvals=ROWS, ticks='inside', ticklen=3,
                showticklabels=False, **line_style),

    xaxis2=dict(domain=[0, 1], anchor='y2', range=[0, 60], dtick=5, ticks='outside', ticklen=4,
                showticklabels=False, **line_style),
    yaxis2=dict(domain=DOM_B, anchor='x2', type='log', range=RANGE_B, tickvals=LOG_MAJOR,
                ticktext=[str(v) for v in LOG_MAJOR], ticks='outside', ticklen=5,
                minor=dict(tickvals=LOG_MINOR, ticks='outside', ticklen=3, tickcolor='#444'), **line_style),
    xaxis5=dict(overlaying='x2', side='top', anchor='y2', range=[0, 60], dtick=5, ticks='inside', ticklen=4,
                showticklabels=False, **line_style),
    yaxis5=dict(overlaying='y2', side='right', anchor='x2', type='log', range=RANGE_B, tickvals=LOG_MAJOR,
                ticks='inside', ticklen=5, showticklabels=False,
                minor=dict(tickvals=LOG_MINOR, ticks='inside', ticklen=3, tickcolor='#444'), **line_style),

    xaxis3=dict(domain=[0, 1], anchor='y3', range=[0, 60], dtick=10, ticks='outside', ticklen=4,
                minor=dict(dtick=5, ticks='outside', ticklen=4, tickcolor='#444'), **line_style),
    yaxis3=dict(domain=DOM_C, anchor='x3', range=[0, 125], dtick=25, ticks='outside', ticklen=4, **line_style),
    xaxis6=dict(overlaying='x3', side='top', anchor='y3', range=[0, 60], dtick=5, ticks='inside', ticklen=4,
                showticklabels=False, **line_style),
    yaxis6=dict(overlaying='y3', side='right', anchor='x3', range=[0, 125], dtick=25, ticks='inside', ticklen=4,
                showticklabels=False, **line_style),
)

ann = []
for label, y in [('a', 1.0095), ('b', 0.6685), ('c', 0.2975)]:
    ann.append(dict(text=f'<b>{label}</b>', xref='paper', yref='paper', x=-0.083, y=y,
                    xanchor='left', yanchor='top', showarrow=False,
                    font=dict(family=FONT, size=14.5, color='black')))
for text, y in [('Row number', 0.8375), ('Synapse conductance (µS)', 0.4776), ('Average conductance (µS)', 0.1385)]:
    ann.append(dict(text=text, xref='paper', yref='paper', x=-0.0688, y=y, textangle=-90,
                    xanchor='center', yanchor='middle', showarrow=False,
                    font=dict(family=FONT, size=12.5, color='#1a1a1a')))
ann.append(dict(text='Epoch', xref='paper', yref='paper', x=0.497, y=-0.057, xanchor='center', yanchor='middle',
                showarrow=False, font=dict(family=FONT, size=12.5, color='#1a1a1a')))

for text, x, y, color in [('Pattern #1', 19.2, 111, RED), ('Background #2', 20.1, 52.9, '#2bc82b'),
                          ('Total', 20.6, 29.8, 'black'), ('Pattern #2', 51.2, 111, '#2bc82b'),
                          ('Background #1', 51.9, 59.3, '#e01b1b')]:
    ann.append(dict(text=text, xref='x3', yref='y3', x=x, y=y, xanchor='center', yanchor='middle',
                    showarrow=False, font=dict(family=FONT, size=12.5, color=color)))
ann.append(dict(text='', xref='x3', yref='y3', axref='x3', ayref='y3', x=52.1, y=44.6, ax=52.1, ay=53.5,
                showarrow=True, arrowhead=2, arrowsize=1, arrowwidth=1.2, arrowcolor='#d01010'))
fig.update_layout(annotations=ann)

# the page body has a default 8px margin; drop it so the figure fills the window
fig.write_html("out.html", config={'displayModeBar': False},
               post_script="document.body.style.margin='0';")
